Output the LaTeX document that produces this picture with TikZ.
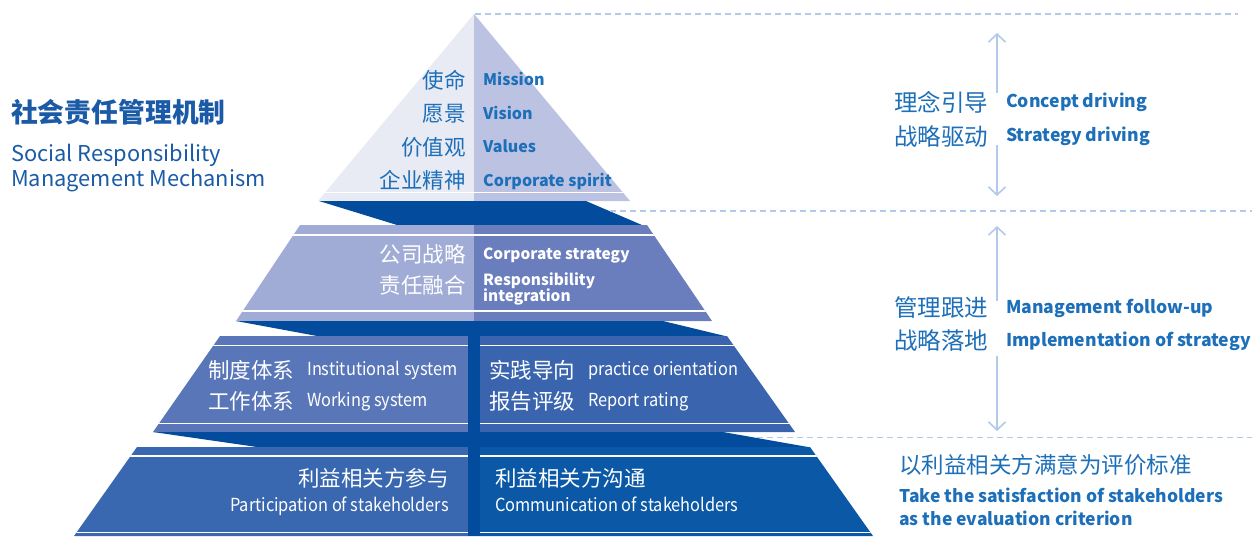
\documentclass[tikz,border=0pt]{standalone}
\usepackage{fontspec}
\setmainfont{Noto Sans CJK SC}
\newfontfamily\narrowf[FakeStretch=0.91]{Noto Sans CJK SC}
\usetikzlibrary{arrows.meta}
\definecolor{tAl}{HTML}{E8EAF4}
\definecolor{tAr}{HTML}{BCC2E1}
\definecolor{tBl}{HTML}{A1ACD6}
\definecolor{tBr}{HTML}{6A7EBD}
\definecolor{tCl}{HTML}{5977B8}
\definecolor{tCr}{HTML}{3A65AE}
\definecolor{tDl}{HTML}{3968B0}
\definecolor{tDr}{HTML}{0A58A6}
\definecolor{dk}{HTML}{034C9D}
\definecolor{tblue}{HTML}{1C6FB8}
\definecolor{ttl}{HTML}{1A5AA6}
\definecolor{lt}{HTML}{B3C9EC}
\begin{document}
\begin{tikzpicture}[x=1pt,y=-1pt,
  wl/.style={white,line width=1.6pt},
  cn/.style={inner sep=0pt,font=\fontsize{21.5}{22}\selectfont},
  enb/.style={inner sep=0pt,font=\fontsize{16}{17}\selectfont\bfseries},
  enn/.style={inner sep=0pt,font=\fontsize{18}{19}\selectfont\narrowf},
  blue/.style={text=tblue},
  wt/.style={text=white},
  dashln/.style={lt,line width=1.3pt,dash pattern=on 6pt off 4pt},
  arr/.style={lt,line width=1.6pt,-{Straight Barb[length=8pt,width=17pt,line width=1.6pt]}}]
\useasboundingbox (0,0) rectangle (1252,536);
% ---------- tier 1
\begin{scope}
\clip (474,14) -- (318,201) -- (630,201) -- cycle;
\fill[tAl] (300,0) rectangle (474,210);
\fill[tAr] (474,0) rectangle (650,210);
\draw[wl] (300,192.6) -- (650,192.6);
\end{scope}
% ---------- dark ribbon 1
\fill[dk] (319,201) -- (586,201) -- (642,225) -- (397,225) -- cycle;
% ---------- tier 2
\begin{scope}
\clip (300,225) -- (647,225) -- (712,321) -- (236,321) -- cycle;
\fill[tBl] (200,220) rectangle (474,330);
\fill[tBr] (474,220) rectangle (720,330);
\draw[wl] (200,234.8) -- (720,234.8);
\draw[wl] (200,310.8) -- (720,310.8);
\end{scope}
\fill[dk] (236,321) -- (663,321) -- (725,336) -- (317,336) -- cycle;
% ---------- tier 3
\begin{scope}
\clip (220,336) -- (727,336) -- (795,432) -- (153,432) -- cycle;
\fill[tCl] (140,330) rectangle (474,440);
\fill[tCr] (474,330) rectangle (800,440);
\draw[wl] (140,345.6) -- (800,345.6);
\draw[wl] (140,423.4) -- (800,423.4);
\end{scope}
\fill[dk] (153,432) -- (723,432) -- (808,447) -- (257,447) -- cycle;
% ---------- tier 4
\begin{scope}
\clip (137,447) -- (810,447) -- (873,536) -- (74,536) -- cycle;
\fill[tDl] (60,440) rectangle (474,540);
\fill[tDr] (474,440) rectangle (880,540);
\draw[wl] (60,456.2) -- (880,456.2);
\draw[wl] (60,532.6) -- (880,532.6);
\end{scope}
% ---------- centre bar
\fill[dk] (468,336) rectangle (480,536);
% ---------- dashed guide lines
\coordinate (apex) at (475,14);
\coordinate (g1e) at (1238,14);
\coordinate (g2s) at (610,211);
\coordinate (g2e) at (1252,211);
\coordinate (g3s) at (757,437.5);
\coordinate (g3e) at (1252,437.5);
\draw[dashln] (apex) -- (g1e);
\draw[dashln] (g2s) -- (g2e);
\draw[dashln] (g3s) -- (g3e);
% ---------- tier 1 text
\node[cn,blue,anchor=base east] (m1c) at (466,88) {使命};
\node[cn,blue,anchor=base east] (m2c) at (466,121.5) {愿景};
\node[cn,blue,anchor=base east] (m3c) at (466,155) {价值观};
\node[cn,blue,anchor=base east] (m4c) at (466,188.5) {企业精神};
\node[enb,blue,anchor=base west] (m1e) at (483,85.5) {Mission};
\node[enb,blue,anchor=base west] (m2e) at (483,119) {Vision};
\node[enb,blue,anchor=base west] (m3e) at (483,152.5) {Values};
\node[enb,blue,anchor=base west] (m4e) at (483,186) {Corporate spirit};
% ---------- tier 2 text
\node[cn,wt,anchor=base east] (s1c) at (466,262) {公司战略};
\node[cn,wt,anchor=base east] (s2c) at (466,293) {责任融合};
\node[enb,wt,anchor=base west,font=\fontsize{15.4}{16}\selectfont\bfseries] (s1e) at (483,259) {Corporate strategy};
\node[enb,wt,anchor=base west,font=\fontsize{15.4}{16}\selectfont\bfseries] (s2e) at (483,285.5) {Responsibility};
\node[enb,wt,anchor=base west,font=\fontsize{15.4}{16}\selectfont\bfseries] (s3e) at (483,301.5) {integration};
% ---------- tier 3 text
\node[cn,wt,anchor=base west] (i1c) at (208,378) {制度体系};
\node[cn,wt,anchor=base west] (i2c) at (208,409) {工作体系};
\node[enn,wt,anchor=base west] (i1e) at (307,375) {Institutional system};
\node[enn,wt,anchor=base west] (i2e) at (307,406) {Working system};
\node[cn,wt,anchor=base west] (p1c) at (489,378) {实践导向};
\node[cn,wt,anchor=base west] (p2c) at (489,409) {报告评级};
\node[enn,wt,anchor=base west] (p1e) at (588,375) {practice orientation};
\node[enn,wt,anchor=base west] (p2e) at (588,406) {Report rating};
% ---------- tier 4 text
\node[cn,wt,anchor=base east] (k1c) at (449,486) {利益相关方参与};
\node[enn,wt,anchor=base east] (k1e) at (449,511.5) {Participation of stakeholders};
\node[cn,wt,anchor=base west] (k2c) at (495,486) {利益相关方沟通};
\node[enn,wt,anchor=base west] (k2e) at (495,511.5) {Communication of stakeholders};
% ---------- title
\node[inner sep=0pt,anchor=base west,text=ttl,font=\fontsize{26.8}{27}\selectfont\bfseries] (title) at (11,122) {社会责任管理机制};
\node[inner sep=0pt,anchor=base west,text=ttl,font=\fontsize{21.8}{22}\selectfont] (te1) at (11,161) {Social Responsibility};
\node[inner sep=0pt,anchor=base west,text=ttl,font=\fontsize{21.8}{22}\selectfont] (te2) at (11,186) {Management Mechanism};
% ---------- right side
\node[cn,blue,anchor=base west,font=\fontsize{23.5}{24}\selectfont] (r1c) at (894,111) {理念引导};
\node[cn,blue,anchor=base west,font=\fontsize{23.5}{24}\selectfont] (r2c) at (894,145) {战略驱动};
\node[enb,blue,anchor=base west,font=\fontsize{17.6}{18}\selectfont\bfseries] (r1e) at (1006,107.5) {Concept driving};
\node[enb,blue,anchor=base west,font=\fontsize{17.6}{18}\selectfont\bfseries] (r2e) at (1006,141.5) {Strategy driving};
\node[cn,blue,anchor=base west,font=\fontsize{23.5}{24}\selectfont] (r3c) at (894,316) {管理跟进};
\node[cn,blue,anchor=base west,font=\fontsize{23.5}{24}\selectfont] (r4c) at (894,349) {战略落地};
\node[enb,blue,anchor=base west,font=\fontsize{17.6}{18}\selectfont\bfseries] (r3e) at (1006,313) {Management follow-up};
\node[enb,blue,anchor=base west,font=\fontsize{17.6}{18}\selectfont\bfseries] (r4e) at (1006,346.5) {Implementation of strategy};
\node[cn,blue,anchor=base west,font=\fontsize{22.5}{23}\selectfont] (r5c) at (899,473.5) {以利益相关方满意为评价标准};
\node[enb,blue,anchor=base west,font=\fontsize{17.5}{18}\selectfont\bfseries] (r5e) at (899,502) {Take the satisfaction of stakeholders};
\node[enb,blue,anchor=base west,font=\fontsize{17.5}{18}\selectfont\bfseries] (r6e) at (899,525) {as the evaluation criterion};
% ---------- arrows
\coordinate (a1t) at (997,33);
\coordinate (a1u) at (997,93);
\coordinate (a1d) at (997,145);
\coordinate (a1b) at (997,196);
\coordinate (a2t) at (997,226);
\coordinate (a2u) at (997,301);
\coordinate (a2d) at (997,356);
\coordinate (a2b) at (997,431);
\draw[arr] (a1u) -- (a1t);
\draw[arr] (a1d) -- (a1b);
\draw[arr] (a2u) -- (a2t);
\draw[arr] (a2d) -- (a2b);
\end{tikzpicture}
\end{document}
